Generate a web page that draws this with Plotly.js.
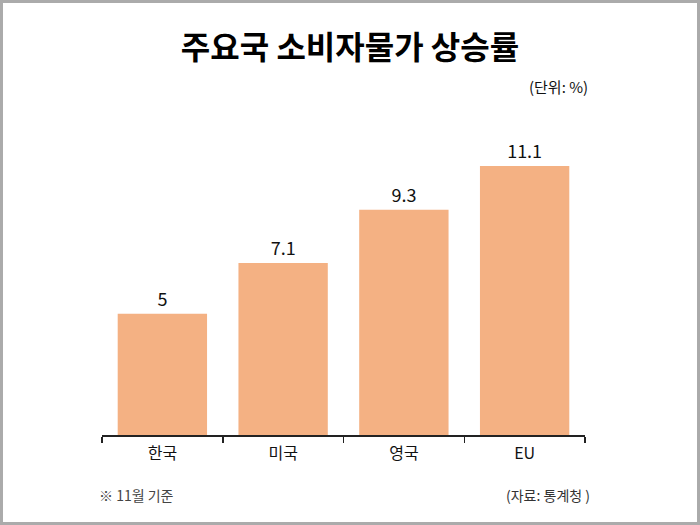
<!DOCTYPE html>
<html>
<head>
<meta charset="utf-8">
<script src="https://cdn.plot.ly/plotly-3.0.1.min.js"></script>
<style>
  html, body { margin: 0; padding: 0; background: #fff; }
  #frame { width: 700px; height: 525px; box-sizing: border-box; border: 3px solid #ababab; }
  #chart { width: 694px; height: 519px; }
</style>
</head>
<body>
<div id="frame"><div id="chart"></div></div>
<script>
const countries = ['한국', '미국', '영국', 'EU'];
const rates = [5, 7.1, 9.3, 11.1];
const rateLabels = ['5', '7.1', '9.3', '11.1'];

const barColor = '#f4b183';
const fontFamily = '"Noto Sans CJK KR", "Noto Sans", sans-serif';

const data = [
  {
    x: countries,
    y: rates,
    type: 'bar',
    marker: { color: barColor },
    text: rateLabels,
    textposition: 'outside',
    textfont: { size: 18, color: '#111' },
    cliponaxis: false,
    hoverinfo: 'x+y'
  }
];

const layout = {
  width: 694,
  height: 519,
  paper_bgcolor: '#fff',
  plot_bgcolor: '#fff',
  font: { family: fontFamily, size: 14, color: '#111' },
  showlegend: false,
  bargap: 0.26,
  margin: { l: 99, r: 112, t: 117, b: 87 },
  title: {
    text: '<b>주요국 소비자물가 상승률</b>',
    font: { size: 32, color: '#000' },
    x: 0.5, xanchor: 'center',
    y: 0.913, yanchor: 'middle'
  },
  xaxis: {
    showline: true,
    linecolor: '#222',
    linewidth: 1.5,
    ticks: 'outside',
    tickson: 'boundaries',
    ticklen: 6,
    tickcolor: '#222',
    tickwidth: 1.5,
    ticklabelstandoff: 3,
    tickfont: { size: 16, color: '#111' },
    showgrid: false,
    zeroline: false
  },
  yaxis: {
    range: [0, 13],
    visible: false,
    showgrid: false,
    zeroline: false
  },
  annotations: [
    { text: '(단위: %)', xref: 'paper', yref: 'paper', x: 1.0104, y: 1.105,
      xanchor: 'right', yanchor: 'middle', showarrow: false, font: { size: 15, color: '#111' } },
    { text: '※ 11월 기준', xref: 'paper', yref: 'paper', x: -0.0104, y: -0.19,
      xanchor: 'left', yanchor: 'middle', showarrow: false, font: { size: 14, color: '#444' } },
    { text: '(자료: 통계청 )', xref: 'paper', yref: 'paper', x: 1.0145, y: -0.19,
      xanchor: 'right', yanchor: 'middle', showarrow: false, font: { size: 14, color: '#333' } }
  ]
};

Plotly.newPlot('chart', data, layout, { displayModeBar: false, staticPlot: true });
</script>
</body>
</html>
